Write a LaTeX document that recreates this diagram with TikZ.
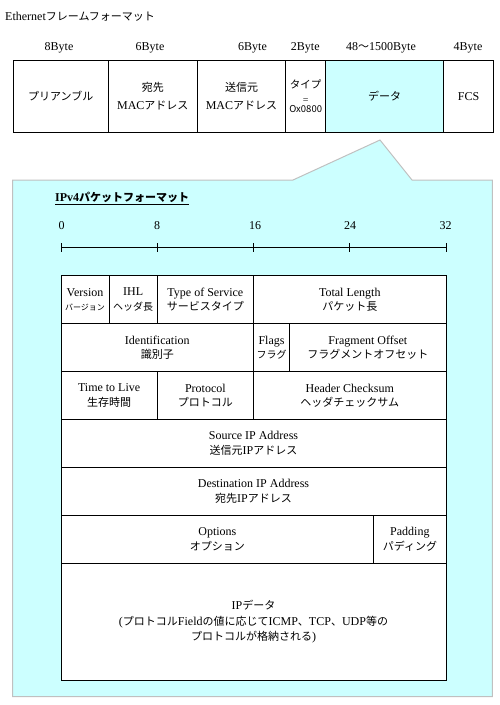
\documentclass[tikz,border=0pt]{standalone}
\usepackage{fontspec}
\setmainfont{Liberation Serif}
\newfontfamily\jpfont{Noto Sans CJK JP}
\newcommand\JP[1]{{\jpfont\fontsize{11}{14.5}\selectfont #1}}
\newcommand\JPs[2]{{\jpfont\fontsize{#1}{14.5}\selectfont #2}}
\usetikzlibrary{calc}
\definecolor{lcyan}{RGB}{204,255,255}
\definecolor{lgray}{RGB}{192,192,192}
\newcommand\fld[7][]{\node[cell,minimum width={(#5)-(#3)},minimum height={(#6)-(#4)},#1] (#2) at ({((#3)+(#5))/2},{((#4)+(#6))/2}) {#7};}
\begin{document}
\begin{tikzpicture}[x=1pt,y=-1pt,
  cell/.style={draw=black,fill=white,line width=0.9pt,inner sep=0pt,align=center,font=\fontsize{12}{14.5}\selectfont},
  lbl/.style={inner sep=0pt,font=\fontsize{12}{14.5}\selectfont},
  topcell/.style={font=\fontsize{12}{18.5}\selectfont}]
\useasboundingbox (0,0) rectangle (500,705);
% callout background
\draw[draw=lgray,fill=lcyan,line width=1pt] (12.5,180) -- (293,180) -- (380,140) -- (412,180) -- (492.3,180) -- (492.3,696.7) -- (12.5,696.7) -- cycle;
% Ethernet title
\node[lbl,anchor=west] (ethtitle) at (5,17) {Ethernet\JP{フレームフォーマット}};
% byte labels
\node[lbl] (by1) at (59,48) {8Byte};
\node[lbl] (by2) at (150,48) {6Byte};
\node[lbl] (by3) at (252.5,48) {6Byte};
\node[lbl] (by4) at (305.3,48) {2Byte};
\node[lbl] (by5) at (381,48) {48\JP{〜}1500Byte};
\node[lbl] (by6) at (468,48) {4Byte};
% ethernet frame
\fld[topcell]{pre}{13}{60}{108.3}{132.3}{\JP{プリアンブル}}
\fld[topcell]{dmac}{108.3}{60}{197.3}{132.3}{\JP{宛先}\\MAC\JP{アドレス}}
\fld[topcell]{smac}{197.3}{60}{285.7}{132.3}{\JP{送信元}\\MAC\JP{アドレス}}
\fld[font=\fontsize{12}{9}\selectfont]{etype}{285.7}{60}{325.7}{132.3}{\JPs{10.5}{タイプ}\\[6pt]{\fontsize{10}{9}\selectfont =}\\\JPs{9.5}{Ox0800}}
\fld[fill=lcyan]{edata}{325.7}{60}{443.7}{132.3}{\JP{データ}}
\fld{fcs}{443.7}{60}{493.5}{132.3}{FCS}
% IPv4 title
\node[lbl,anchor=west,font=\bfseries\fontsize{12}{14.5}\selectfont] (iptitle) at (55,197) {IPv4\JP{\bfseries パケットフォーマット}};
\draw[line width=0.9pt] ($(iptitle.south west)+(0,2)$) -- ($(iptitle.south east)+(0,2)$);
% bit ruler
\coordinate (b0) at (61,247.7);
\coordinate (b8) at (157.25,247.7);
\coordinate (b16) at (253.5,247.7);
\coordinate (b24) at (349.75,247.7);
\coordinate (b32) at (446,247.7);
\draw[line width=0.9pt] (b0) -- (b32);
\foreach \n in {b0,b8,b16,b24,b32} \draw[line width=0.9pt] ($(\n)+(0,-4.3)$) -- ($(\n)+(0,4.3)$);
\node[lbl] (l0) at (61.5,226) {0};
\node[lbl] (l8) at (157,226) {8};
\node[lbl] (l16) at (255,226) {16};
\node[lbl] (l24) at (350,226) {24};
\node[lbl] (l32) at (445.6,226) {32};
% IPv4 header
\fld{ver}{61}{275.7}{109.125}{323.6}{Version\\\JPs{8}{バージョン}}
\fld{ihl}{109.125}{275.7}{157.25}{323.6}{IHL\\\JPs{10}{ヘッダ長}}
\fld{tos}{157.25}{275.7}{253.5}{323.6}{Type of Service\\\JP{サービスタイプ}}
\fld{tlen}{253.5}{275.7}{446}{323.6}{Total Length\\\JP{パケット長}}
\fld{ident}{61}{323.6}{253.5}{371.6}{Identification\\\JP{識別子}}
\fld{flags}{253.5}{323.6}{289.6}{371.6}{Flags\\\JPs{10}{フラグ}}
\fld{frag}{289.6}{323.6}{446}{371.6}{Fragment Offset\\\JP{フラグメントオフセット}}
\fld{ttl}{61}{371.6}{157.25}{419.5}{Time to Live\\\JP{生存時間}}
\fld{proto}{157.25}{371.6}{253.5}{419.5}{Protocol\\\JP{プロトコル}}
\fld{cksum}{253.5}{371.6}{446}{419.5}{Header Checksum\\\JP{ヘッダチェックサム}}
\fld{srcip}{61}{419.5}{446}{467.4}{Source IP Address\\\JP{送信元}IP\JP{アドレス}}
\fld{dstip}{61}{467.4}{446}{515.3}{Destination IP Address\\\JP{宛先}IP\JP{アドレス}}
\fld{opts}{61}{515.3}{373.8}{563.3}{Options\\\JP{オプション}}
\fld{pad}{373.8}{515.3}{446}{563.3}{Padding\\\JP{パディング}}
\fld[font=\fontsize{12}{15.5}\selectfont]{ipdata}{61}{563.3}{446}{680.7}{IP\JP{データ}\\(\JP{プロトコル}Field\JP{の値に応じて}ICMP\JP{、}TCP\JP{、}UDP\JP{等の}\\\JP{プロトコルが格納される})}
\end{tikzpicture}
\end{document}
